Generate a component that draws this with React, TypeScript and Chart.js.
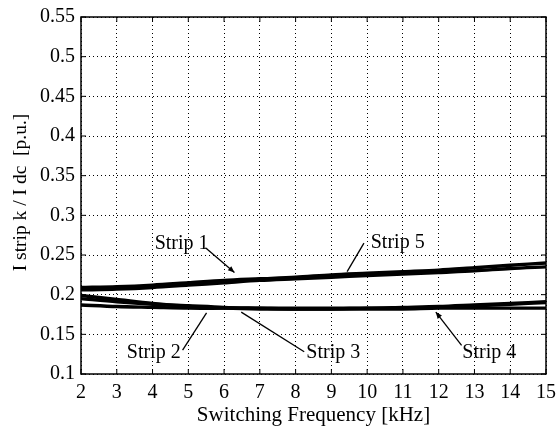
import React, { useEffect, useRef } from "react";
import { Chart, registerables } from "chart.js";

Chart.register(...registerables);

const freqKHz = [2, 3, 4, 5, 6, 7, 8, 9, 10, 11, 12, 13, 14, 15];
const strip1 = [0.209, 0.210, 0.212, 0.215, 0.218, 0.220, 0.222, 0.225, 0.227, 0.229, 0.231, 0.234, 0.237, 0.240];
const strip5 = [0.206, 0.207, 0.209, 0.212, 0.215, 0.218, 0.220, 0.222, 0.224, 0.226, 0.228, 0.230, 0.233, 0.235];
const strip2 = [0.199, 0.194, 0.189, 0.185, 0.183, 0.182, 0.182, 0.182, 0.182, 0.182, 0.183, 0.183, 0.183, 0.183];
const strip3 = [0.195, 0.191, 0.188, 0.186, 0.184, 0.183, 0.182, 0.182, 0.183, 0.183, 0.184, 0.186, 0.188, 0.190];
const strip4 = [0.187, 0.185, 0.184, 0.183, 0.183, 0.183, 0.183, 0.183, 0.183, 0.184, 0.185, 0.187, 0.189, 0.191];

const seriesNames = ["Strip 1", "Strip 2", "Strip 3", "Strip 4", "Strip 5"];
const seriesValues = [strip1, strip2, strip3, strip4, strip5];

const yTickLabels = ["0.1", "0.15", "0.2", "0.25", "0.3", "0.35", "0.4", "0.45", "0.5", "0.55"];
const xTickLabels = ["2", "3", "4", "5", "6", "7", "8", "9", "10", "11", "12", "13", "14", "15"];

const xTitle = "Switching Frequency [kHz]";
const yTitle = "I strip k / I dc  [p.u.]";

// annotation labels in data coordinates: text anchor (left, middle), leader line from -> to
const annLabels = ["Strip 1", "Strip 5", "Strip 2", "Strip 3", "Strip 4"];
const annTextX = [4.06, 10.1, 3.28, 8.3, 12.66];
const annTextY = [0.264, 0.266, 0.1265, 0.1265, 0.1265];
const annFromX = [5.48, 9.91, 4.84, 8.24, 12.64];
const annFromY = [0.259, 0.265, 0.130, 0.128, 0.136];
const annToX = [6.29, 9.44, 5.51, 6.48, 11.92];
const annToY = [0.228, 0.229, 0.177, 0.178, 0.178];
const annArrow = [true, false, false, false, true];

const FONT = "'Liberation Serif', 'DejaVu Serif', serif";

const annotationPlugin = {
  id: "stripAnnotations",
  afterDatasetsDraw(chart: any) {
    const { ctx, scales } = chart;
    const xs = scales.x;
    const ys = scales.y;
    ctx.save();
    ctx.font = `20px ${FONT}`;
    ctx.fillStyle = "#000";
    ctx.strokeStyle = "#000";
    ctx.lineWidth = 1.3;
    ctx.textBaseline = "middle";
    ctx.textAlign = "left";
    annLabels.forEach((label, i) => {
      const tx = xs.getPixelForValue(annTextX[i]);
      const ty = ys.getPixelForValue(annTextY[i]);
      ctx.fillText(label, tx, ty);
      const x1 = xs.getPixelForValue(annFromX[i]);
      const y1 = ys.getPixelForValue(annFromY[i]);
      const x2 = xs.getPixelForValue(annToX[i]);
      const y2 = ys.getPixelForValue(annToY[i]);
      ctx.beginPath();
      ctx.moveTo(x1, y1);
      ctx.lineTo(x2, y2);
      ctx.stroke();
      if (annArrow[i]) {
        const ang = Math.atan2(y2 - y1, x2 - x1);
        const len = 7;
        ctx.beginPath();
        ctx.moveTo(x2, y2);
        ctx.lineTo(x2 - len * Math.cos(ang - 0.4), y2 - len * Math.sin(ang - 0.4));
        ctx.lineTo(x2 - len * Math.cos(ang + 0.4), y2 - len * Math.sin(ang + 0.4));
        ctx.closePath();
        ctx.fill();
      }
    });
    ctx.restore();
  },
};

const framePlugin = {
  id: "frameBox",
  afterDraw(chart: any) {
    const { ctx, chartArea } = chart;
    ctx.save();
    ctx.strokeStyle = "#000";
    ctx.lineWidth = 1.5;
    ctx.strokeRect(chartArea.left, chartArea.top, chartArea.right - chartArea.left, chartArea.bottom - chartArea.top);
    const xs = chart.scales.x;
    const ys = chart.scales.y;
    ctx.lineWidth = 1;
    freqKHz.forEach((v) => {
      const px = xs.getPixelForValue(v);
      ctx.beginPath();
      ctx.moveTo(px, chartArea.bottom);
      ctx.lineTo(px, chartArea.bottom - 5);
      ctx.moveTo(px, chartArea.top);
      ctx.lineTo(px, chartArea.top + 5);
      ctx.stroke();
    });
    yTickLabels.forEach((l) => {
      const py = ys.getPixelForValue(parseFloat(l));
      ctx.beginPath();
      ctx.moveTo(chartArea.left, py);
      ctx.lineTo(chartArea.left + 5, py);
      ctx.moveTo(chartArea.right, py);
      ctx.lineTo(chartArea.right - 5, py);
      ctx.stroke();
    });
    // rotated y-axis title
    ctx.font = `19.5px ${FONT}`;
    ctx.fillStyle = "#000";
    ctx.textAlign = "center";
    ctx.textBaseline = "middle";
    ctx.translate(21, (chartArea.top + chartArea.bottom) / 2 - 3);
    ctx.rotate(-Math.PI / 2);
    ctx.fillText(yTitle, 0, 0);
    ctx.restore();
  },
};

export default function App() {
  const ref = useRef<HTMLCanvasElement | null>(null);
  useEffect(() => {
    if (!ref.current) return;
    const chart = new Chart(ref.current, {
      type: "line",
      data: {
        datasets: seriesNames.map((name, i) => ({
          label: name,
          data: freqKHz.map((x, j) => ({ x, y: seriesValues[i][j] })),
          borderColor: "#000",
          borderWidth: 3.4,
          pointRadius: 0,
          tension: 0.3,
          fill: false,
        })),
      },
      options: {
        responsive: false,
        animation: false,
        layout: { padding: { top: 17, right: 13, left: 0, bottom: 0 } },
        plugins: { legend: { display: false }, tooltip: { enabled: false } },
        scales: {
          x: {
            type: "linear",
            min: 2,
            max: 15,
            afterBuildTicks: (s: any) => {
              s.ticks = freqKHz.map((v) => ({ value: v }));
            },
            afterFit: (s: any) => {
              s.height = 54;
              s.paddingLeft = 0;
              s.paddingRight = 0;
            },
            ticks: {
              color: "#000",
              font: { family: FONT, size: 20 },
              padding: 7,
              maxRotation: 0,
              autoSkip: false,
              callback: (v: any) => xTickLabels[freqKHz.indexOf(Number(v))] ?? "",
            },
            grid: {
              color: "#000",
              lineWidth: 1,
              drawTicks: false,
              tickLength: 0,
            },
            border: { display: false, dash: [1, 3] },
            title: {
              display: true,
              text: xTitle,
              color: "#000",
              font: { family: FONT, size: 21 },
              padding: { top: 0, bottom: 0 },
            },
          },
          y: {
            type: "linear",
            min: 0.1,
            max: 0.55,
            afterBuildTicks: (s: any) => {
              s.ticks = yTickLabels.map((l) => ({ value: parseFloat(l) }));
            },
            afterFit: (s: any) => {
              s.width = 81;
              s.paddingTop = 0;
              s.paddingBottom = 0;
            },
            ticks: {
              color: "#000",
              font: { family: FONT, size: 20 },
              padding: 6,
              autoSkip: false,
              callback: (v: any) => {
                const idx = yTickLabels.findIndex((l) => Math.abs(parseFloat(l) - Number(v)) < 1e-6);
                return idx >= 0 ? yTickLabels[idx] : "";
              },
            },
            grid: {
              color: "#000",
              lineWidth: 1,
              drawTicks: false,
              tickLength: 0,
            },
            border: { display: false, dash: [1, 3] },
            title: { display: false },
          },
        },
      },
      plugins: [annotationPlugin, framePlugin],
    } as any);
    return () => chart.destroy();
  }, []);
  return (
    <div style={{ position: "fixed", left: 0, top: 0, width: 559, height: 428, background: "#fff" }}>
      <canvas ref={ref} width={559} height={428} style={{ display: "block", width: 559, height: 428 }} />
    </div>
  );
}
